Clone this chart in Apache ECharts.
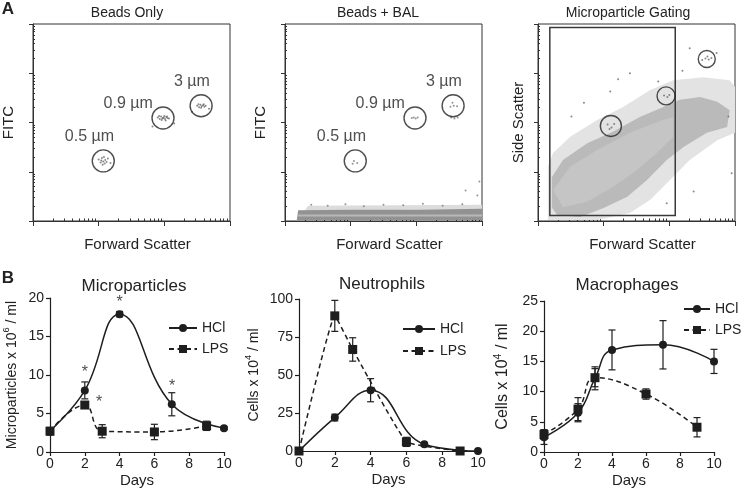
<!DOCTYPE html>
<html><head><meta charset="utf-8">
<script src="https://cdn.jsdelivr.net/npm/echarts@6/dist/echarts.min.js"></script>
<style>html,body{margin:0;padding:0;background:#fff}#c{width:745px;height:491px}</style>
</head><body><div id="c"></div>
<script>
// ================= DATA =================
// Panel A: flow cytometry dot plots, axes in log10 decades
const decadeTicksX = [0, 1, 2, 3];
const decadeTicksY = [0, 1, 2, 3, 4];
const minorMultipliers = [2, 3, 4, 5, 6, 7, 8, 9];

const beadLabels = ['0.5 µm', '0.9 µm', '3 µm'];
const beadLabelPos = [[0.86, 1.71], [1.45, 2.39], [2.42, 2.84]];
const beadGatePos = [[1.07, 1.22], [1.98, 2.09], [2.56, 2.34]];
const beadGateSize = [22, 22, 22];

const beadsOnlyDots = [
  [1.00,1.25],[1.03,1.19],[1.05,1.28],[1.07,1.21],[1.09,1.17],[1.10,1.24],[1.12,1.20],[1.06,1.14],
  [1.14,1.27],[1.04,1.23],[1.18,1.18],[1.08,1.30],
  [1.90,2.10],[1.93,2.07],[1.95,2.12],[1.97,2.08],[1.99,2.10],[2.01,2.07],[2.03,2.11],[2.05,2.09],
  [1.96,2.05],[2.00,2.13],[2.07,2.08],[1.92,2.13],[2.02,2.04],[1.98,2.09],[2.04,2.12],[1.82,1.92],[2.15,1.98],
  [2.50,2.34],[2.53,2.31],[2.55,2.36],[2.57,2.33],[2.59,2.35],[2.61,2.32],[2.63,2.34],[2.56,2.30],
  [2.52,2.37],[2.60,2.37],[2.42,2.22],[2.68,2.28]
];
const beadsBalDots = [
  [1.05,1.22],[1.10,1.18],[1.03,1.16],[1.93,2.09],[1.96,2.10],[1.99,2.08],[2.02,2.10],
  [2.52,2.32],[2.57,2.34],[2.62,2.33],[2.55,2.40],[2.53,2.10],[2.63,2.10],[2.58,2.08],
  [0.40,0.33],[0.65,0.31],[0.92,0.34],[1.20,0.30],[1.50,0.33],[1.80,0.32],[2.10,0.35],[2.40,0.31],
  [2.70,0.34],[2.93,0.52],[2.96,0.80],[2.75,0.62]
];
const balBandDense = [[0.18,0.02],[0.20,0.22],[1.0,0.23],[2.0,0.23],[3.0,0.25],[3.0,0.02]];
const balBandLight = [[0.20,0.09],[3.0,0.09],[3.0,0.13],[0.20,0.13]];
const balBandFringe = [[0.30,0.21],[0.35,0.31],[3.0,0.33],[3.0,0.24]];

const gateX = [0.18, 2.09];
const gateY = [0.11, 3.93];
const mpGatePos = [[1.11, 1.93], [1.95, 2.54], [2.57, 3.29]];
const mpGateSize = [21, 18, 17];
const gatingCloudOuter = [
  [0.15,0.08],[0.15,1.10],[0.23,1.38],[0.49,1.71],[0.90,2.05],[1.29,2.31],[1.71,2.66],[2.06,2.86],
  [2.51,2.92],[2.92,2.86],[3.0,2.72],[3.0,1.79],[2.73,1.64],[2.31,1.24],[2.01,0.83],[1.71,0.43],
  [1.40,0.16],[0.90,0.02],[0.15,0.02]
];
const gatingCloudMid = [
  [0.21,0.28],[0.21,0.89],[0.38,1.24],[0.75,1.58],[1.14,1.81],[1.55,2.11],[1.90,2.31],[2.16,2.46],
  [2.47,2.52],[2.73,2.42],[2.92,2.25],[2.88,1.91],[2.57,1.79],[2.21,1.50],[1.96,1.24],[1.66,0.83],
  [1.36,0.49],[0.99,0.26],[0.64,0.08],[0.29,0.12]
];
const gatingCloudCore = [
  [0.23,0.63],[0.49,1.10],[0.90,1.44],[1.40,1.79],[1.90,2.05],[2.06,2.11],[2.06,1.71],[1.81,1.38],
  [1.51,1.04],[1.14,0.69],[0.75,0.39],[0.38,0.28]
];
const gatingDots = [
  [1.06,1.96],[1.12,1.90],[1.16,1.97],[1.09,1.87],[1.92,2.55],[1.97,2.52],[2.00,2.56],
  [2.50,3.27],[2.55,3.30],[2.60,3.28],[2.58,3.34],[2.64,3.31],
  [1.22,2.88],[2.31,3.51],[1.83,2.83],[0.51,2.12],[1.10,2.63],[2.37,0.60],[1.96,0.36],[2.72,3.41],
  [1.40,3.00],[2.90,2.12],[2.95,0.97],[0.70,2.40],[2.20,3.05]
];

// Panel B: time courses
const mpDaysHCl = [0, 2, 4, 7, 10];
const mpHCl     = [2.74, 8.0, 17.9, 6.2, 3.1];
const mpHClErr  = [0.3, 1.1, 0.35, 1.5, 0.2];
const mpDaysLPS = [0, 2, 3, 6, 9];
const mpLPS     = [2.7, 6.1, 2.7, 2.6, 3.4];
const mpLPSErr  = [0.5, 0.3, 0.85, 1.0, 0.6];
const mpStars   = [[2.0, 10.25], [4.0, 19.45], [7.02, 8.5], [2.82, 6.45]];

const neuDaysHCl = [0, 2, 4, 7, 10];
const neuHCl     = [0, 22, 40, 4.4, 0];
const neuHClErr  = [0, 2.2, 7.6, 1, 0];
const neuDaysLPS = [0, 2, 3, 6, 9];
const neuLPS     = [0, 88.9, 66.8, 6.0, 0];
const neuLPSErr  = [0, 10.2, 7.7, 3, 0];

const macDaysHCl = [0, 2, 3, 4, 7, 10];
const macHCl     = [2.45, 6.5, 12.2, 16.9, 17.75, 15.0];
const macHClErr  = [1.2, 1.5, 1.9, 3.3, 4.0, 2.0];
const macDaysLPS = [0, 2, 3, 6, 9];
const macLPS     = [2.9, 7.1, 12.3, 9.6, 4.1];
const macLPSErr  = [0.8, 1.9, 1.5, 0.85, 1.6];

// ================= CHART =================
const FONT = '"Liberation Sans", Arial, Helvetica, sans-serif';
const INK = '#1e1e1e';
const chart = echarts.init(document.getElementById('c'), null, {renderer: 'canvas'});

function minorVals(nDec) {
  const v = [];
  for (let d = 0; d < nDec; d++) for (const m of minorMultipliers) v.push(d + Math.log10(m));
  return v;
}

const grid = [
  {left: 33, top: 24, width: 197, height: 197},
  {left: 285, top: 24, width: 197, height: 197},
  {left: 538, top: 24, width: 197, height: 197},
  {left: 50, top: 298, width: 174, height: 154},
  {left: 299, top: 299, width: 179, height: 152},
  {left: 544, top: 301, width: 170, height: 151}
].map((g, i) => Object.assign(g, i < 3 ? {show: true, borderColor: '#333', borderWidth: 1} : {}));

const xAxis = [], yAxis = [];
const yNamesA = ['FITC', 'FITC', 'Side Scatter'];
const yGapsA = [17, 17, 12];
for (let g = 0; g < 3; g++) {
  xAxis.push({type: 'value', gridIndex: g, min: 0, max: 3,
    axisLine: {show: true, onZero: false, lineStyle: {color: '#333', width: 1}},
    axisTick: {show: true, customValues: decadeTicksX, length: 5, lineStyle: {color: '#333'}},
    axisLabel: {show: false}, splitLine: {show: false},
    name: 'Forward Scatter', nameLocation: 'middle', nameGap: 16,
    nameTextStyle: {fontSize: 15, color: '#222', padding: [0, 0, 0, 12]}});
  xAxis.push({type: 'value', gridIndex: g, min: 0, max: 3,
    axisLine: {show: false}, axisLabel: {show: false}, splitLine: {show: false},
    axisTick: {show: true, customValues: minorVals(3), length: 2.5, lineStyle: {color: '#333'}}});
  yAxis.push({type: 'value', gridIndex: g, min: 0, max: 4,
    axisLine: {show: true, onZero: false, lineStyle: {color: '#333', width: 1}},
    axisTick: {show: true, customValues: decadeTicksY, length: 4, lineStyle: {color: '#333'}},
    axisLabel: {show: false}, splitLine: {show: false},
    name: yNamesA[g], nameLocation: 'middle', nameGap: yGapsA[g],
    nameTextStyle: {fontSize: 15, color: '#222'}});
  yAxis.push({type: 'value', gridIndex: g, min: 0, max: 4,
    axisLine: {show: false}, axisLabel: {show: false}, splitLine: {show: false},
    axisTick: {show: true, customValues: minorVals(4), length: 2, lineStyle: {color: '#333'}}});
}
const bY = [
  {max: 20, interval: 5, name: '{a|Microparticles x 10}{s|6}{a| / ml}', gap: 28, fs: 14},
  {max: 100, interval: 25, name: '{a|Cells x 10}{s|4}{a| / ml}', gap: 35, fs: 14},
  {max: 25, interval: 5, name: '{a|Cells x 10}{s|4}{a| / ml}', gap: 31, fs: 16}
];
for (let i = 0; i < 3; i++) {
  xAxis.push({type: 'value', gridIndex: 3 + i, min: 0, max: 10, interval: 2,
    axisLine: {onZero: false, lineStyle: {color: INK, width: 1.2}},
    axisTick: {length: 4, lineStyle: {color: INK, width: 1.2}},
    axisLabel: {fontSize: 14, color: '#222', margin: 5}, splitLine: {show: false},
    name: 'Days', nameLocation: 'middle', nameGap: 21, nameTextStyle: {fontSize: 15, color: '#222'}});
  const b = bY[i];
  yAxis.push({type: 'value', gridIndex: 3 + i, min: 0, max: b.max, interval: b.interval,
    axisLine: {show: true, onZero: false, lineStyle: {color: INK, width: 1.2}},
    axisTick: {show: true, length: 4, lineStyle: {color: INK, width: 1.2}},
    axisLabel: {fontSize: 14, color: '#222', margin: 6}, splitLine: {show: false},
    name: b.name, nameLocation: 'middle', nameGap: b.gap,
    nameTextStyle: {rich: {
      a: {fontSize: b.fs, color: '#222', lineHeight: 20, fontFamily: FONT},
      s: {fontSize: b.fs * 0.66, color: '#222', lineHeight: 10, verticalAlign: 'top', fontFamily: FONT}
    }}});
}

const A = g => ({xAxisIndex: 2 * g, yAxisIndex: 2 * g});
const B = i => ({xAxisIndex: 6 + i, yAxisIndex: 6 + i});

function polySeries(name, pts, ax, style, z) {
  return Object.assign({type: 'custom', name, silent: true, z: z, data: pts,
    renderItem(params, api) {
      if (params.dataIndex !== 0) return null;
      return {type: 'polygon', shape: {points: pts.map(p => api.coord(p))}, style: style};
    }}, ax);
}
function dotSeries(name, pts, ax, size, color) {
  return Object.assign({type: 'scatter', name, silent: true, z: 4, data: pts,
    symbol: 'circle', symbolSize: size, itemStyle: {color: color}}, ax);
}
function ringSeries(name, pts, sizes, ax) {
  return Object.assign({type: 'scatter', name, silent: true, z: 5, data: pts, symbol: 'circle',
    symbolSize: (v, p) => sizes[p.dataIndex],
    itemStyle: {color: 'rgba(0,0,0,0)', borderColor: '#222', borderWidth: 1.4}}, ax);
}
function labelSeries(name, pts, texts, ax, fs) {
  return Object.assign({type: 'scatter', name, silent: true, z: 6,
    data: pts.map((p, i) => ({name: texts[i], value: p})),
    symbolSize: 1, itemStyle: {color: 'rgba(0,0,0,0)'},
    label: {show: true, position: 'inside', formatter: '{b}', fontSize: fs, color: '#222', fontFamily: FONT}}, ax);
}
function lineSeries(name, days, vals, ax, dashed, smooth) {
  return Object.assign({type: 'line', name, z: 4, data: days.map((d, i) => [d, vals[i]]),
    smooth: smooth, symbol: dashed ? 'rect' : 'circle', symbolSize: dashed ? 9 : 8,
    showAllSymbol: true, itemStyle: {color: INK},
    lineStyle: {color: INK, width: 1.5, type: dashed ? [5, 3.5] : 'solid'}}, ax);
}
function errSeries(name, days, vals, errs, ax) {
  return Object.assign({type: 'custom', name, silent: true, z: 3,
    data: days.map((d, i) => [d, vals[i] - errs[i], vals[i] + errs[i]]),
    renderItem(params, api) {
      const x = api.value(0);
      const lo = api.coord([x, api.value(1)]), hi = api.coord([x, api.value(2)]);
      if (Math.abs(lo[1] - hi[1]) < 1) return null;
      const w = 3.5, st = {stroke: INK, lineWidth: 1.2};
      return {type: 'group', children: [
        {type: 'line', shape: {x1: lo[0], y1: lo[1], x2: hi[0], y2: hi[1]}, style: st},
        {type: 'line', shape: {x1: hi[0] - w, y1: hi[1], x2: hi[0] + w, y2: hi[1]}, style: st},
        {type: 'line', shape: {x1: lo[0] - w, y1: lo[1], x2: lo[0] + w, y2: lo[1]}, style: st}
      ]};
    }}, ax);
}
const gateRect = [[gateX[0], gateY[0]], [gateX[0], gateY[1]], [gateX[1], gateY[1]], [gateX[1], gateY[0]]];

const series = [
  // A1 beads only
  dotSeries('beads only events', beadsOnlyDots, A(0), 2, '#6a6a6a'),
  ringSeries('bead gates 1', beadGatePos, beadGateSize, A(0)),
  labelSeries('bead labels 1', beadLabelPos, beadLabels, A(0), 16),
  // A2 beads + BAL
  polySeries('BAL debris fringe', balBandFringe, A(1), {fill: '#dcdcdc'}, 1),
  polySeries('BAL debris', balBandDense, A(1), {fill: '#929292'}, 2),
  polySeries('BAL debris light', balBandLight, A(1), {fill: '#b8b8b8'}, 2),
  dotSeries('beads BAL events', beadsBalDots, A(1), 2, '#7a7a7a'),
  ringSeries('bead gates 2', beadGatePos, beadGateSize, A(1)),
  labelSeries('bead labels 2', beadLabelPos, beadLabels, A(1), 16),
  // A3 gating
  polySeries('cloud outer', gatingCloudOuter, A(2), {fill: '#e3e3e3'}, 1),
  polySeries('cloud mid', gatingCloudMid, A(2), {fill: '#bababa'}, 2),
  polySeries('cloud core', gatingCloudCore, A(2), {fill: '#c5c5c5'}, 3),
  dotSeries('gating events', gatingDots, A(2), 2, '#6a6a6a'),
  polySeries('microparticle gate', gateRect, A(2), {fill: 'none', stroke: '#3a3a3a', lineWidth: 1.5}, 5),
  ringSeries('bead gates 3', mpGatePos, mpGateSize, A(2)),
  // B1 microparticles
  errSeries('HCl err mp', mpDaysHCl, mpHCl, mpHClErr, B(0)),
  errSeries('LPS err mp', mpDaysLPS, mpLPS, mpLPSErr, B(0)),
  lineSeries('HCl', mpDaysHCl, mpHCl, B(0), false, 0.45),
  lineSeries('LPS', mpDaysLPS, mpLPS, B(0), true, 0.45),
  labelSeries('significance', mpStars, mpStars.map(() => '*'), B(0), 16),
  // B2 neutrophils
  errSeries('HCl err neu', neuDaysHCl, neuHCl, neuHClErr, B(1)),
  errSeries('LPS err neu', neuDaysLPS, neuLPS, neuLPSErr, B(1)),
  lineSeries('HCl', neuDaysHCl, neuHCl, B(1), false, 0.45),
  lineSeries('LPS', neuDaysLPS, neuLPS, B(1), true, 0.1),
  // B3 macrophages
  errSeries('HCl err mac', macDaysHCl, macHCl, macHClErr, B(2)),
  errSeries('LPS err mac', macDaysLPS, macLPS, macLPSErr, B(2)),
  lineSeries('HCl', macDaysHCl, macHCl, B(2), false, 0.45),
  lineSeries('LPS', macDaysLPS, macLPS, B(2), true, 0.45)
];

const legendBase = {data: ['HCl', 'LPS'], orient: 'vertical', itemHeight: 10, itemGap: 7, padding: 0,
  selectedMode: false, textStyle: {fontSize: 14, color: '#222', fontFamily: FONT}};
const legend = [
  Object.assign({left: 168, top: 321, itemWidth: 28}, legendBase),
  Object.assign({left: 402, top: 322, itemWidth: 32}, legendBase, {itemGap: 8}),
  Object.assign({left: 683, top: 302, itemWidth: 26}, legendBase)
];

const txt = (x, y, text, fs, bold) => ({type: 'text', x, y, silent: true,
  style: {text, fontSize: fs, fontWeight: bold ? 'bold' : 'normal', fill: '#222', fontFamily: FONT,
    align: 'center', verticalAlign: 'middle'}});
const graphic = [
  txt(8, 9, 'A', 17, true), txt(8, 278, 'B', 17, true),
  txt(127, 13, 'Beads Only', 14), txt(378, 13, 'Beads + BAL', 14), txt(628, 13, 'Microparticle Gating', 14),
  txt(134, 286, 'Microparticles', 17), txt(382, 284, 'Neutrophils', 17), txt(627, 285, 'Macrophages', 17)
];

chart.setOption({
  animation: false,
  textStyle: {fontFamily: FONT},
  grid, xAxis, yAxis, series, legend, graphic
});
</script></body></html>
